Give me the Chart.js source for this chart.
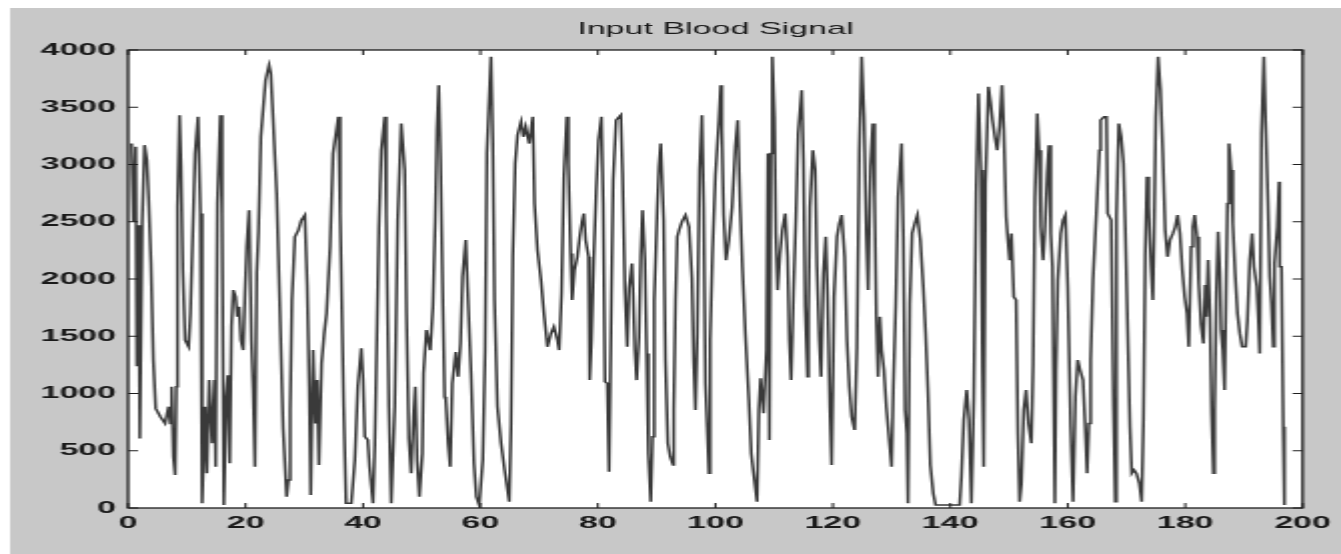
<!DOCTYPE html>
<html>
<head>
<meta charset="utf-8">
<title>Input Blood Signal</title>
<script src="https://cdn.jsdelivr.net/npm/chart.js@4.4.1/dist/chart.umd.min.js"></script>
<style>
  html, body { margin: 0; padding: 0; background: #fff; overflow: hidden; }
  /* the source figure is stretched horizontally, so draw narrow and stretch */
  #wrap { width: 670px; height: 554px; transform: scaleX(2.0015); transform-origin: 0 0; }
</style>
</head>
<body>
<div id="wrap"><canvas id="bloodSignalChart"></canvas></div>
<script>
// sample positions (x axis)
const sampleX = [
  0.6, 0.9, 1.3, 1.5, 1.8, 2.0, 2.4, 2.8, 3.2, 3.5, 3.9, 4.3, 4.7, 5.5, 6.3, 6.9, 7.2, 7.4, 7.7, 8.0,
  8.2, 8.4, 8.75, 9.0, 9.3, 9.7, 10.3, 10.6, 11.0, 11.4, 11.9, 12.3, 12.6, 13.1, 13.4, 13.8, 14.3, 14.7, 14.9, 15.2,
  15.7, 16.0, 16.3, 16.7, 17.0, 17.3, 17.6, 17.9, 18.3, 18.6, 18.9, 19.2, 19.6, 19.9, 20.2, 20.6, 21.0, 21.3, 21.6, 21.9,
  22.2, 22.6, 23.0, 23.4, 24.0, 24.3, 24.7, 25.3, 25.8, 26.4, 27.0, 27.3, 27.6, 27.9, 28.4, 29.0, 29.5, 30.1, 30.5, 30.85,
  31.1, 31.5, 31.9, 32.2, 32.5, 32.95, 33.4, 33.8, 34.4, 34.9, 35.8, 36.1, 36.7, 37.1, 38.0, 38.6, 39.1, 39.7, 40.0, 40.3,
  40.8, 41.1, 41.7, 42.0, 42.4, 42.7, 43.1, 43.7, 43.95, 44.4, 44.8, 45.4, 45.9, 46.5, 47.1, 47.4, 47.8, 48.2, 48.6, 48.9,
  49.2, 49.6, 50.1, 50.3, 50.8, 51.45, 51.9, 52.3, 52.6, 52.9, 53.2, 53.6, 53.9, 54.1, 54.5, 54.85, 55.2, 55.8, 56.2, 56.6,
  56.95, 57.5, 57.8, 58.4, 58.9, 59.3, 59.8, 60.4, 60.8, 61.1, 61.8, 62.1, 62.4, 62.9, 63.5, 64.1, 64.9, 65.2, 65.5, 65.9,
  66.3, 66.9, 67.3, 67.7, 68.3, 68.9, 69.2, 69.7, 70.3, 70.8, 71.4, 72.0, 72.5, 73.1, 73.4, 73.8, 74.2, 74.7, 74.96, 75.35,
  75.6, 76.0, 76.5, 76.9, 77.3, 77.6, 77.9, 78.4, 78.6, 78.9, 79.3, 79.7, 80.1, 80.6, 80.9, 81.2, 81.6, 81.9, 82.3, 82.6,
  83.1, 83.9, 84.2, 84.6, 85.0, 85.3, 85.8, 86.0, 86.3, 86.6, 87.0, 87.3, 87.6, 88.0, 88.3, 88.6, 89.0, 89.3, 89.6, 90.1,
  90.4, 90.7, 91.2, 91.5, 91.9, 92.3, 92.8, 92.9, 93.2, 93.5, 93.9, 94.3, 94.9, 95.5, 96.0, 96.3, 96.6, 96.9, 97.3, 97.7,
  98.0, 98.3, 98.6, 98.9, 99.1, 99.5, 100.0, 100.6, 100.9, 101.1, 101.4, 101.8, 102.3, 102.85, 103.4, 103.8, 104.2, 104.6, 105.1, 105.7,
  106.1, 106.5, 107.1, 107.4, 107.7, 108.2, 108.7, 108.95, 109.2, 109.45, 109.7, 110.05, 110.3, 110.6, 111.0, 111.4, 111.9, 112.3, 112.6, 112.9,
  113.3, 113.7, 114.1, 114.7, 115.0, 115.3, 115.7, 115.85, 116.1, 116.6, 117.0, 117.3, 117.7, 118.0, 118.4, 118.8, 119.1, 119.5, 119.8, 120.2,
  120.7, 121.1, 121.5, 122.0, 122.4, 122.8, 123.2, 123.7, 124.1, 124.5, 124.9, 125.3, 125.7, 126.0, 126.4, 126.8, 127.1, 127.4, 127.7, 128.0,
  128.3, 128.7, 129.1, 129.6, 130.0, 130.3, 130.7, 131.1, 131.7, 132.0, 132.3, 132.6, 132.8, 133.1, 133.5, 133.96, 134.4, 134.9, 135.4, 135.8,
  136.2, 136.6, 137.1, 137.5, 139.6, 141.6, 141.9, 142.3, 142.8, 143.2, 143.6, 144.0, 144.4, 144.8, 145.2, 145.5, 145.7, 146.0, 146.5, 146.85,
  147.2, 147.6, 148.0, 148.4, 148.8, 149.1, 149.5, 149.8, 150.1, 150.4, 150.8, 151.2, 151.5, 151.8, 152.1, 152.5, 152.9, 153.3, 153.8, 154.1,
  154.4, 154.8, 155.1, 155.4, 155.8, 156.1, 156.5, 156.8, 157.1, 157.4, 157.8, 158.0, 158.3, 158.8, 159.2, 159.6, 160.0, 160.5, 160.9, 161.3,
  161.7, 162.1, 162.6, 163.0, 163.3, 163.6, 163.9, 164.3, 164.9, 165.4, 165.6, 166.2, 166.6, 166.8, 167.4, 167.8, 168.1, 168.3, 168.7, 169.1,
  169.5, 169.8, 170.2, 170.6, 170.9, 171.3, 171.7, 172.2, 172.6, 172.9, 173.2, 173.5, 173.8, 174.0, 174.2, 174.5, 174.7, 175.0, 175.4, 175.8,
  176.2, 176.6, 177.0, 177.4, 177.9, 178.3, 178.7, 179.1, 179.5, 179.9, 180.3, 180.6, 181.0, 181.3, 181.6, 182.0, 182.3, 182.7, 183.1, 183.4,
  183.6, 183.9, 184.2, 184.5, 184.8, 185.0, 185.3, 185.6, 185.9, 186.1, 186.4, 186.7, 187.0, 187.2, 187.45, 187.8, 188.1, 188.5, 188.9, 189.3,
  189.7, 190.3, 190.6, 191.0, 191.4, 191.7, 192.2, 192.5, 192.7, 193.0, 193.4, 193.7, 194.1, 194.4, 194.7, 195.0, 195.2, 195.7, 196.0, 196.1,
  196.4, 196.7, 196.9
];

// signal amplitude at each sample
const bloodSignal = [
  3183, 2500, 3154, 1239, 2470, 608, 2485, 3169, 3038, 2703, 2136, 1292, 870, 797, 739, 885, 739, 1059, 448, 288,
  1059, 2631, 3431, 2980, 2078, 1467, 1408, 1700, 2398, 3096, 3416, 2572, 41, 885, 303, 1117, 565, 1117, 361, 2660,
  3431, 2572, 26, 972, 1160, 390, 1583, 1903, 1845, 1670, 1758, 1467, 1379, 1874, 2281, 2601, 1467, 1030, 361, 2049,
  2412, 3242, 3489, 3736, 3867, 3795, 3387, 2747, 1816, 695, 99, 244, 841, 1816, 2369, 2427, 2514, 2558, 1947, 1059,
  113, 1379, 739, 1117, 375, 1263, 1525, 1700, 2281, 3096, 3416, 2572, 885, 41, 41, 419, 1059, 1394, 1117, 623,
  594, 361, 41, 550, 1627, 2456, 3125, 3416, 2572, 885, 41, 885, 2514, 3358, 2951, 1700, 608, 303, 797, 1059,
  419, 99, 477, 1176, 1554, 1379, 1758, 2514, 3300, 3693, 3038, 1787, 972, 943, 565, 361, 1088, 1362, 1147, 1437,
  2020, 2340, 1932, 1176, 390, 99, 26, 419, 1379, 3096, 3940, 3213, 1816, 885, 565, 332, 55, 739, 2194, 3009,
  3256, 3373, 3242, 3329, 3183, 3416, 2660, 2252, 1990, 1700, 1408, 1525, 1583, 1467, 1379, 1874, 2893, 3416, 3009, 2223,
  1816, 2078, 2194, 2369, 2500, 2572, 2340, 2194, 1117, 1467, 2194, 2762, 3213, 3416, 2660, 1103, 1088, 317, 1845, 2864,
  3387, 3431, 2922, 1918, 1408, 1918, 2136, 1874, 1380, 1117, 1496, 2194, 2601, 2165, 1350, 477, 55, 623, 1816, 2601,
  2980, 3183, 2514, 1292, 565, 448, 375, 856, 1816, 2369, 2441, 2500, 2558, 2456, 2005, 1292, 856, 1496, 2951, 3431,
  2631, 1088, 710, 303, 1467, 2223, 2907, 3387, 3693, 3300, 2558, 2165, 2340, 2631, 3154, 3387, 2660, 2107, 1525, 943,
  477, 303, 55, 856, 1132, 827, 1379, 3096, 594, 3096, 3940, 3416, 2398, 1903, 2223, 2427, 2572, 2194, 1467, 1117,
  1874, 2514, 3271, 3649, 3038, 1758, 1147, 1700, 2631, 3125, 2951, 2107, 1467, 1147, 2049, 2369, 1874, 885, 375, 1845,
  2369, 2485, 2558, 2194, 1467, 1059, 797, 681, 1408, 3125, 3940, 3416, 2398, 1903, 2980, 3358, 2718, 1670, 1147, 1670,
  1379, 1205, 885, 594, 361, 1059, 1758, 2718, 3183, 2369, 856, 652, 41, 1787, 2398, 2485, 2558, 2340, 1932, 1525,
  1016, 375, 128, 26, 26, 26, 274, 768, 1030, 768, 41, 943, 2747, 3620, 2951, 1176, 361, 2834, 3678, 3547,
  3387, 3242, 3125, 3329, 3693, 3300, 2543, 2340, 2165, 2398, 1845, 1816, 652, 55, 215, 856, 1030, 739, 565, 1263,
  2718, 3445, 3125, 2456, 2165, 2427, 2922, 3169, 2398, 2107, 41, 1205, 1990, 2398, 2514, 2558, 1932, 710, 55, 972,
  1292, 1205, 1117, 681, 303, 739, 1292, 1990, 2601, 3125, 3387, 3416, 3416, 2572, 2514, 885, 55, 2543, 3358, 3242,
  3009, 2456, 1583, 710, 303, 332, 303, 215, 55, 768, 2194, 2893, 2631, 2340, 2107, 1816, 2369, 3416, 3940, 3649,
  3096, 2427, 2194, 2340, 2398, 2456, 2558, 2398, 2078, 1845, 1700, 1408, 2281, 2456, 2558, 2369, 1961, 1598, 1437, 1947,
  1670, 2165, 1700, 827, 303, 841, 1874, 2412, 2049, 1554, 1380, 1030, 2049, 2660, 3183, 2951, 2485, 2049, 1700, 1525,
  1408, 1408, 1641, 2165, 2398, 2107, 1932, 1612, 1350, 3271, 3940, 3358, 2660, 2020, 1787, 1408, 2136, 2456, 2849, 2107,
  2107, 710, 26
];

const xTicks = [0, 20, 40, 60, 80, 100, 120, 140, 160, 180, 200];
const yTicks = [0, 500, 1000, 1500, 2000, 2500, 3000, 3500, 4000];

const FONT = 'Liberation Sans, Arial, Helvetica, sans-serif';

// gray figure, white axes box with inward ticks on all sides
const matlabFrame = {
    id: 'matlabFrame',
    beforeDraw(chart) {
        const { ctx, chartArea: a, width, height } = chart;
        ctx.save();
        ctx.fillStyle = '#ffffff';
        ctx.fillRect(0, 0, width, height);
        ctx.fillStyle = '#c8c8c8';
        ctx.fillRect(5, 8, width - 5, height - 8);
        ctx.fillStyle = '#ffffff';
        ctx.fillRect(a.left, a.top, a.right - a.left, a.bottom - a.top);
        ctx.restore();
    },
    afterDatasetsDraw(chart) {
        const { ctx, chartArea: a, scales: { x, y } } = chart;
        const len = 5;
        ctx.save();
        ctx.strokeStyle = '#1e1e1e';
        ctx.lineWidth = 1;
        ctx.beginPath();
        x.ticks.forEach(t => {
            const px = x.getPixelForValue(t.value);
            ctx.moveTo(px, a.bottom); ctx.lineTo(px, a.bottom - len);
            ctx.moveTo(px, a.top); ctx.lineTo(px, a.top + len);
        });
        y.ticks.forEach(t => {
            const py = y.getPixelForValue(t.value);
            ctx.moveTo(a.left, py); ctx.lineTo(a.left + len, py);
            ctx.moveTo(a.right, py); ctx.lineTo(a.right - len, py);
        });
        ctx.stroke();
        ctx.lineWidth = 1.3;
        ctx.strokeRect(a.left, a.top, a.right - a.left, a.bottom - a.top);
        ctx.restore();
    }
};

new Chart(document.getElementById('bloodSignalChart'), {
    type: 'line',
    data: {
        datasets: [{
            label: 'Input Blood Signal',
            data: sampleX.map((t, i) => ({ x: t, y: bloodSignal[i] })),
            borderColor: '#3a3a3a',
            borderWidth: 1.5,
            pointRadius: 0,
            tension: 0,
            fill: false
        }]
    },
    options: {
        responsive: true,
        maintainAspectRatio: false,
        animation: false,
        layout: { padding: { left: 0, right: 19, top: 0, bottom: 0 } },
        plugins: {
            legend: { display: false },
            tooltip: { enabled: false },
            title: {
                display: true,
                text: 'Input Blood Signal',
                fullSize: false,
                color: '#1a1a1a',
                font: { family: FONT, size: 17, weight: 'normal' },
                padding: { top: 19.6, bottom: 10 }
            }
        },
        scales: {
            x: {
                type: 'linear',
                min: 0,
                max: 200,
                afterBuildTicks: s => { s.ticks = xTicks.map(v => ({ value: v })); },
                afterFit: s => { s.height = 46; },
                grid: { display: false, drawTicks: false },
                border: { display: false },
                ticks: {
                    color: '#1a1a1a',
                    font: { family: FONT, size: 17, weight: 'bold' },
                    padding: 5,
                    maxRotation: 0,
                    autoSkip: false,
                    callback: v => v
                }
            },
            y: {
                min: 0,
                max: 4000,
                afterBuildTicks: s => { s.ticks = yTicks.map(v => ({ value: v })); },
                afterFit: s => { s.width = 64; },
                grid: { display: false, drawTicks: false },
                border: { display: false },
                ticks: {
                    color: '#1a1a1a',
                    font: { family: FONT, size: 17, weight: 'bold' },
                    padding: 6,
                    autoSkip: false,
                    callback: v => v
                }
            }
        }
    },
    plugins: [matlabFrame]
});
</script>
</body>
</html>
